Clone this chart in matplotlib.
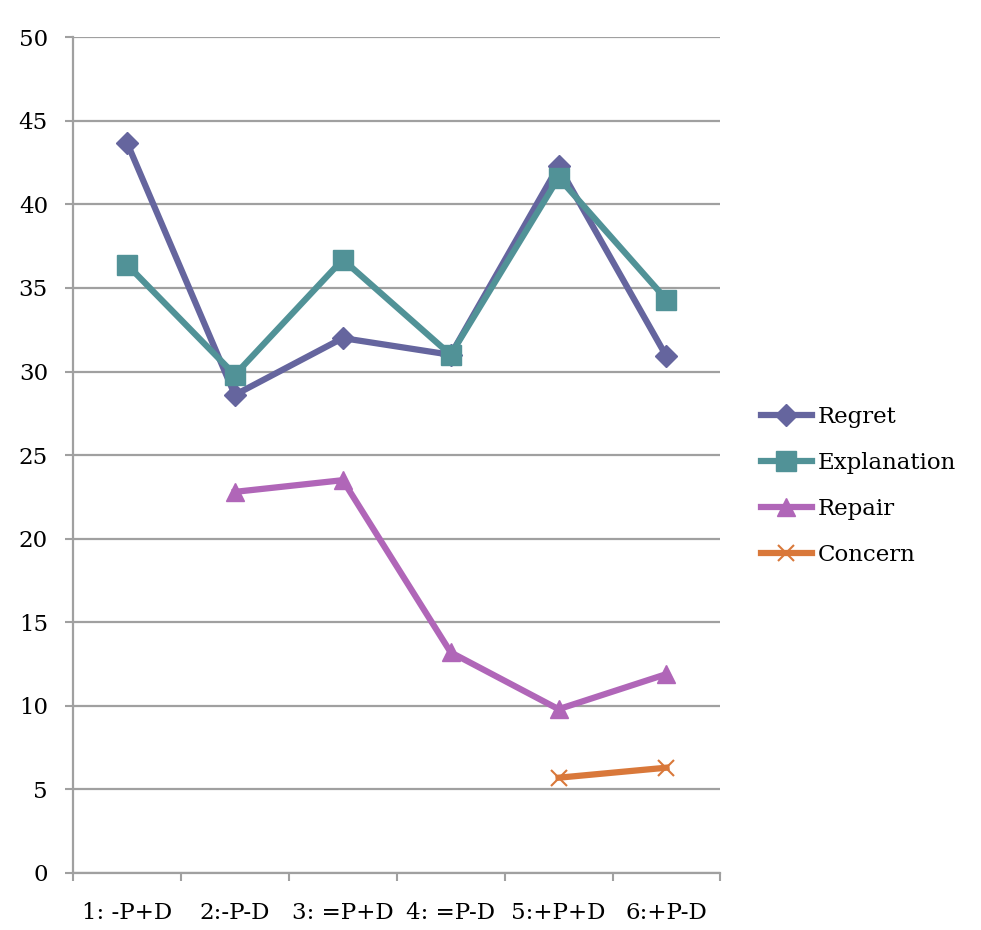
import numpy as np
import matplotlib.pyplot as plt

# Scores per condition
categories = ['1: -P+D', '2:-P-D', '3: =P+D', '4: =P-D', '5:+P+D', '6:+P-D']
regret = [43.7, 28.6, 32.0, 31.0, 42.3, 30.9]
explanation = [36.4, 29.8, 36.7, 31.0, 41.6, 34.3]
repair = [np.nan, 22.8, 23.5, 13.2, 9.8, 11.9]
concern = [np.nan, np.nan, np.nan, np.nan, 5.7, 6.3]

plt.rcParams['font.family'] = ['DejaVu Serif']

fig = plt.figure(figsize=(9.81, 9.30), dpi=100)
ax = fig.add_axes([0.0744, 0.0613, 0.66, 0.8987])

x = np.arange(len(categories))
ax.plot(x, regret, color='#65659e', lw=4.5, marker='D', ms=11, label='Regret')
ax.plot(x, explanation, color='#519297', lw=4.5, marker='s', ms=14, label='Explanation')
ax.plot(x, repair, color='#b066b8', lw=4.5, marker='^', ms=13, label='Repair')
ax.plot(x, concern, color='#d9783a', lw=4.5, marker='x', ms=12, mew=1.5, label='Concern')

ax.set_xlim(-0.5, len(categories) - 0.5)
ax.set_ylim(0, 50)
ax.set_yticks(np.arange(0, 51, 5))
ax.yaxis.grid(True, color='#a0a0a0', lw=1.6)
ax.set_axisbelow(True)

# category labels centred, tick marks on the boundaries
ax.set_xticks(x)
ax.set_xticklabels(categories)
ax.set_xticks(np.arange(-0.5, len(categories)), minor=True)
ax.tick_params(axis='x', which='major', length=0, pad=21, labelsize=16.5)
ax.tick_params(axis='x', which='minor', length=6, color='#a0a0a0', width=1.5)
ax.tick_params(axis='y', length=6, color='#a0a0a0', width=1.5, pad=12, labelsize=16.5)

for side in ['top', 'right']:
    ax.spines[side].set_visible(False)
for side in ['left', 'bottom']:
    ax.spines[side].set_color('#a0a0a0')
    ax.spines[side].set_linewidth(1.6)

ax.legend(loc='center left', bbox_to_anchor=(1.062, 0.463), frameon=False,
          borderaxespad=0, borderpad=0, fontsize=16.5, handlelength=2.25,
          handletextpad=0.25, labelspacing=1.05)

plt.savefig('out.png', dpi=100)
